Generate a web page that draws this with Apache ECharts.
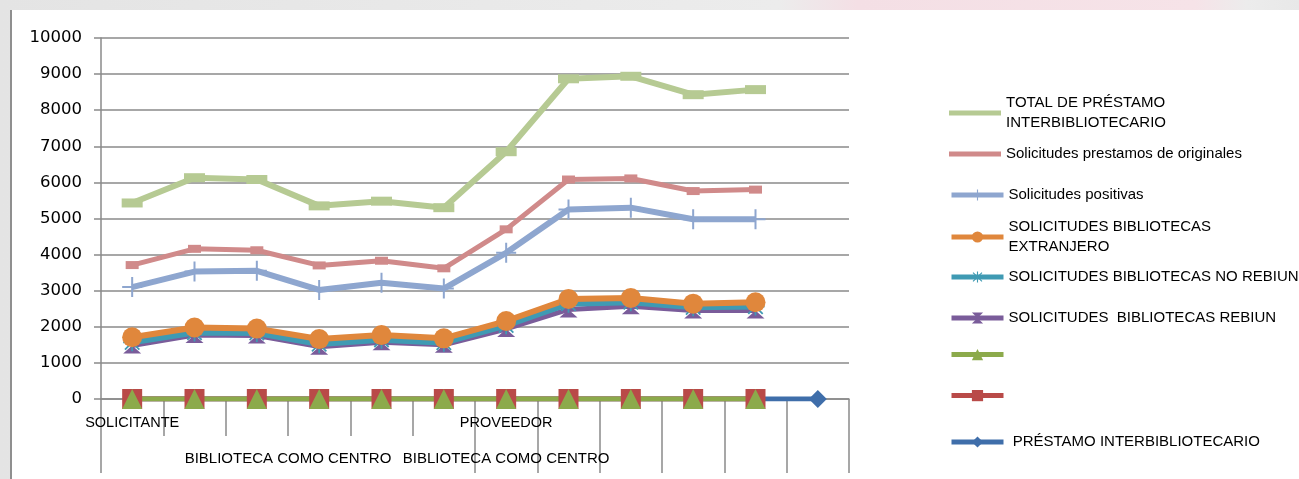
<!DOCTYPE html>
<html>
<head>
<meta charset="utf-8">
<script src="https://cdn.jsdelivr.net/npm/echarts@6/dist/echarts.min.js"></script>
<style>
  html, body { margin: 0; padding: 0; }
  body {
    width: 1299px; height: 479px; overflow: hidden; position: relative;
    background: linear-gradient(to right, #e4e4e4 0%, #ececec 60%, #f4dfe5 66%, #f6e3e8 92%, #ececec 96%, #e8e8e8 100%);
  }
  #panel {
    position: absolute; left: 10px; top: 10px; width: 1289px; height: 469px;
    background: #ffffff; border-left: 2px solid #8f8f8f; box-sizing: border-box;
  }
  #chart { position: absolute; left: 0; top: 0; width: 1299px; height: 479px; }
</style>
</head>
<body>
<div id="panel"></div>
<div id="chart"></div>
<script>
// ---- Data ----
const categories = ['SOLICITANTE', '', '', '', '', '', 'PROVEEDOR', '', '', '', '', ''];
const groupLabels = ['', '', '', '', '', '', 'BIBLIOTECA COMO CENTRO', '', '', '', '', '', '',
                     'BIBLIOTECA COMO CENTRO', '', '', '', '', '', '', '', '', '', '', ''];
const yTicks = { min: 0, max: 10000, interval: 1000 };

const totalPrestamo      = [5430, 6130, 6080, 5350, 5480, 5300, 6850, 8870, 8940, 8430, 8570, null];
const prestamosOriginales = [3710, 4160, 4120, 3700, 3830, 3620, 4700, 6080, 6110, 5760, 5800, null];
const positivas          = [3100, 3530, 3550, 3020, 3220, 3060, 4050, 5250, 5300, 4980, 4980, null];
const extranjero         = [1710, 1980, 1950, 1660, 1770, 1680, 2160, 2770, 2800, 2640, 2680, null];
const noRebiun           = [1570, 1840, 1830, 1520, 1640, 1560, 2040, 2640, 2680, 2540, 2560, null];
const rebiun             = [1480, 1770, 1760, 1450, 1570, 1500, 1940, 2480, 2570, 2450, 2450, null];
const serieVerde         = [0, 0, 0, 0, 0, 0, 0, 0, 0, 0, 0, null];
const serieRoja          = [0, 0, 0, 0, 0, 0, 0, 0, 0, 0, 0, null];
const prestamoInter      = [0, 0, 0, 0, 0, 0, 0, 0, 0, 0, 0, 0];

const names = {
  total: 'TOTAL DE PRÉSTAMO INTERBIBLIOTECARIO',
  orig: 'Solicitudes prestamos de originales',
  pos: 'Solicitudes positivas',
  ext: 'SOLICITUDES BIBLIOTECAS EXTRANJERO',
  norebiun: 'SOLICITUDES BIBLIOTECAS NO REBIUN',
  rebiun: 'SOLICITUDES  BIBLIOTECAS REBIUN',
  verde: 'serie7',
  roja: 'serie8',
  prest: ' PRÉSTAMO INTERBIBLIOTECARIO'
};

const PLUS = 'path://M9,0 h2 v9 h9 v2 h-9 v9 h-2 v-9 h-9 v-2 h9 z';
const STAR = 'path://M0,9 h20 v2 h-20 z M9,0 h2 v20 h-2 z M1.3,2.7 L2.7,1.3 L18.7,17.3 L17.3,18.7 z M17.3,1.3 L18.7,2.7 L2.7,18.7 L1.3,17.3 z';
const HOURGLASS = 'path://M0,0 L20,0 L10,10 L20,20 L0,20 L10,10 Z';

const GRID = '#8a8a8a';
const legendFont = { color: '#000', fontSize: 15, fontFamily: 'Liberation Sans, Arial, sans-serif', lineHeight: 20 };

function mkLegend(name, top, opts) {
  return Object.assign({
    data: [name], left: 949, top: top, orient: 'vertical', padding: 0,
    itemWidth: 52, itemHeight: 14, selectedMode: false,
    lineStyle: { width: 5 },
    textStyle: Object.assign({}, legendFont)
  }, opts || {});
}

function lineSeries(name, data, color, width, symbol, size, extra) {
  return Object.assign({
    type: 'line', name: name, data: data,
    symbol: symbol, symbolSize: size, showSymbol: true,
    lineStyle: { color: color, width: width },
    itemStyle: { color: color },
    emphasis: { disabled: true },
    animation: false
  }, extra || {});
}

const chart = echarts.init(document.getElementById('chart'), null, { renderer: 'canvas' });
chart.setOption({
  backgroundColor: 'transparent',
  animation: false,
  grid: { left: 101, right: 450, top: 38, bottom: 80, containLabel: false },
  xAxis: [
    {
      type: 'category', data: categories, position: 'bottom', boundaryGap: true,
      axisLine: { show: true, lineStyle: { color: GRID, width: 1.5 } },
      axisTick: { show: true, length: 37, interval: function (i) { return i >= 1 && i <= 5; },
                  lineStyle: { color: GRID, width: 1.5 } },
      axisLabel: { interval: 0, margin: 16, color: '#000', fontSize: 14.5,
                   fontFamily: 'Liberation Sans, Arial, sans-serif' },
      splitLine: { show: false }
    },
    {
      type: 'category', data: categories, position: 'bottom', boundaryGap: true,
      axisLine: { show: false },
      axisTick: { show: true, length: 74, interval: function (i) { return i === 0 || i >= 6; },
                  lineStyle: { color: GRID, width: 1.5 } },
      axisLabel: { show: false },
      splitLine: { show: false }
    },
    {
      type: 'category', data: groupLabels, position: 'bottom', boundaryGap: false,
      axisLine: { show: false }, axisTick: { show: false },
      axisLabel: { interval: 0, margin: 52, color: '#000', fontSize: 15,
                   fontFamily: 'Liberation Sans, Arial, sans-serif' },
      splitLine: { show: false }
    }
  ],
  yAxis: {
    type: 'value', min: yTicks.min, max: yTicks.max, interval: yTicks.interval,
    axisLine: { show: true, lineStyle: { color: GRID, width: 1.5 } },
    axisTick: { show: true, length: 7, lineStyle: { color: GRID, width: 1.5 } },
    axisLabel: { margin: 19, color: '#000', fontSize: 16.5, fontFamily: 'DejaVu Sans, sans-serif',
                 formatter: function (v) { return String(v); } },
    splitLine: { show: true, lineStyle: { color: GRID, width: 1.5 } }
  },
  legend: [
    mkLegend(names.total, 83, {
      data: [{ name: names.total, icon: 'rect' }], itemHeight: 5,
      formatter: function () { return 'TOTAL DE PRÉSTAMO\nINTERBIBLIOTECARIO'; },
      textStyle: Object.assign({}, legendFont, { padding: [20, 0, 0, 0] })
    }),
    mkLegend(names.orig, 144, { data: [{ name: names.orig, icon: 'rect' }], itemHeight: 5 }),
    mkLegend(names.pos, 185),
    mkLegend(names.ext, 207, {
      formatter: function () { return 'SOLICITUDES BIBLIOTECAS\nEXTRANJERO'; },
      textStyle: Object.assign({}, legendFont, { padding: [20, 0, 0, 0] })
    }),
    mkLegend(names.norebiun, 267),
    mkLegend(names.rebiun, 308),
    mkLegend(names.verde, 349, { formatter: function () { return ''; } }),
    mkLegend(names.roja, 390, { formatter: function () { return ''; } }),
    mkLegend(names.prest, 432)
  ],
  series: [
    lineSeries(names.prest, prestamoInter, '#3f6eaa', 5, 'diamond', 18),
    lineSeries(names.roja, serieRoja, '#b94a48', 5, 'rect', 20),
    lineSeries(names.verde, serieVerde, '#8caa4b', 5, 'triangle', 20),
    lineSeries(names.rebiun, rebiun, '#7a5c9a', 5, HOURGLASS, [18, 16]),
    lineSeries(names.norebiun, noRebiun, '#3f9ab3', 6, STAR, 18),
    lineSeries(names.ext, extranjero, '#e0873c', 6, 'circle', 20),
    lineSeries(names.pos, positivas, '#8ea6cf', 6, PLUS, 20),
    lineSeries(names.orig, prestamosOriginales, '#d08a8a', 5, 'rect', [13, 8]),
    lineSeries(names.total, totalPrestamo, '#b6ca93', 6, 'rect', [21, 9])
  ]
});
</script>
</body>
</html>
